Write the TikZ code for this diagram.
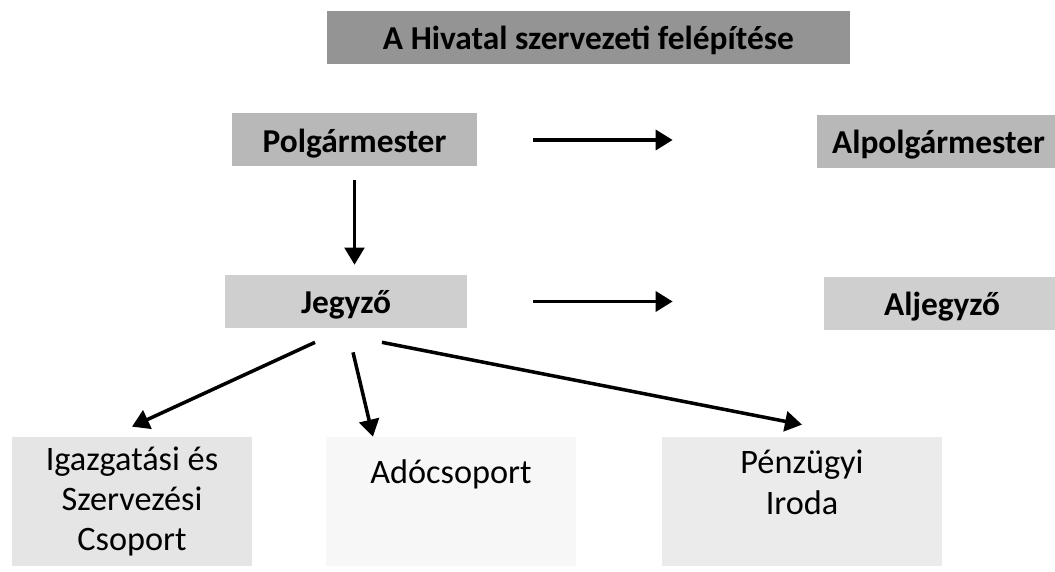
\documentclass[tikz,border=0pt]{standalone}
\usepackage{fontspec}
\setmainfont{Carlito}
\usepackage{tikz}
\usetikzlibrary{arrows.meta}

\begin{document}
\begin{tikzpicture}[
		every node/.style={font=\fontsize{19.5}{23}\selectfont},
		doboz/.style={minimum width=#1, minimum height=1.06cm, inner sep=0pt, text height=0.62cm, text depth=0.12cm, font=\fontsize{19}{23}\selectfont\bfseries},
		csoport/.style={minimum width=#1, minimum height=2.58cm, inner sep=0pt, align=center},
		nyil/.style={-{Triangle[length=0.34cm,width=0.4cm]}, line width=2pt}
		]
		\useasboundingbox (0,0) rectangle (21.1,11.44);
		% felso sor
		\node[doboz=10.46cm, fill=black!42] (cim) at (11.77,10.69) {A Hivatal szervezeti felépítése};
		\node[doboz=4.9cm, fill=black!28] (polg) at (7.09,8.64) {Polgármester};
		\node[doboz=4.86cm, fill=black!28] (alpolg) at (18.77,8.61) {Alpolgármester};
		\node[doboz=4.84cm, fill=black!19] (jegyzo) at (6.92,5.41) {Jegyző};
		\node[doboz=4.72cm, fill=black!19] (aljegyzo) at (18.84,5.37) {Aljegyző};
		% also sor
		\node[csoport=4.8cm, fill=black!10] (igazg) at (2.64,1.41) {Igazgatási és\\Szervezési\\Csoport};
		\node[csoport=5cm, fill=black!3, label={[yshift=0.55cm]center:Adócsoport}] (ado) at (9.02,1.41) {};
		\node[csoport=5.6cm, fill=black!8, label={[yshift=0.38cm,align=center]center:Pénzügyi\\Iroda}] (penz) at (16.04,1.41) {};
		% nyilak
		\draw[nyil, shorten <=1.12cm, shorten >=2.88cm] (polg.east) -- (polg.east -| alpolg.west);
		\draw[nyil, line width=1.2pt, shorten <=0.26cm, shorten >=0.2cm] (polg.south) -- (polg.south |- jegyzo.north);
		\draw[nyil, shorten <=1.32cm, shorten >=3.02cm] (jegyzo.east) -- (jegyzo.east -| aljegyzo.west);
		\draw[nyil] ([xshift=-0.62cm,yshift=-0.28cm]jegyzo.south) -- ([yshift=0.2cm]igazg.north);
		\draw[nyil] ([xshift=0.14cm,yshift=-0.48cm]jegyzo.south) -- ([xshift=-1.56cm]ado.north);
		\draw[nyil] ([xshift=0.72cm,yshift=-0.28cm]jegyzo.south) -- ([yshift=0.24cm]penz.north);
	\end{tikzpicture}
\end{document}
